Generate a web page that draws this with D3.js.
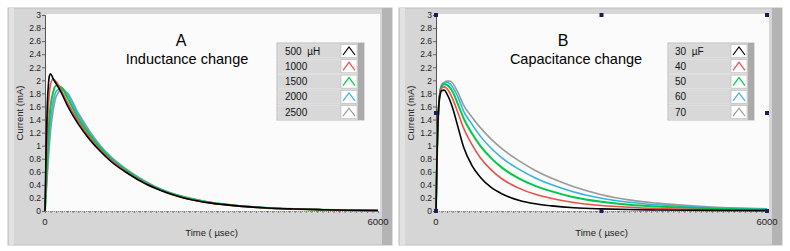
<!DOCTYPE html>
<html>
<head>
<meta charset="utf-8">
<script src="https://cdn.jsdelivr.net/npm/d3@7"></script>
<style>
  body { margin: 0; background: #fff; }
  svg text { font-family: "Liberation Sans", Arial, sans-serif; }
</style>
</head>
<body>
<div id="chart"></div>
<script>
// time samples (usec)
var timeA = [0, 20, 40, 60, 80, 100, 150, 200, 300, 400, 600, 800, 1000, 1200, 1500, 1800, 2100, 2500, 3000, 3500, 4000, 4500, 5000, 5500, 6000];
var timeB = [0, 20, 40, 60, 80, 100, 150, 200, 250, 300, 400, 500, 650, 800, 1000, 1200, 1500, 1800, 2100, 2500, 3000, 3500, 4000, 5000, 6000];

// panel A : inductance change
var labelsA = ["500  \u00b5H", "1000", "1500", "2000", "2500"];
var ind500  = [0, 0.95, 1.6, 1.92, 2.07, 2.1, 2.02, 1.95, 1.8, 1.62, 1.33, 1.1, 0.91, 0.75, 0.57, 0.42, 0.31, 0.2, 0.12, 0.075, 0.045, 0.03, 0.02, 0.012, 0.008];
var ind1000 = [0, 0.65, 1.2, 1.6, 1.82, 1.94, 2.02, 1.98, 1.84, 1.67, 1.37, 1.13, 0.93, 0.77, 0.58, 0.43, 0.31, 0.2, 0.12, 0.075, 0.045, 0.03, 0.02, 0.012, 0.008];
var ind1500 = [0, 0.4, 0.8, 1.15, 1.42, 1.6, 1.83, 1.92, 1.89, 1.74, 1.42, 1.17, 0.96, 0.79, 0.6, 0.44, 0.32, 0.21, 0.125, 0.078, 0.047, 0.03, 0.02, 0.012, 0.008];
var ind2000 = [0, 0.3, 0.62, 0.92, 1.18, 1.38, 1.68, 1.83, 1.88, 1.79, 1.47, 1.2, 0.98, 0.81, 0.61, 0.45, 0.33, 0.21, 0.13, 0.08, 0.048, 0.03, 0.02, 0.012, 0.008];
var ind2500 = [0, 0.25, 0.52, 0.78, 1.02, 1.22, 1.55, 1.75, 1.85, 1.81, 1.5, 1.23, 1.0, 0.82, 0.62, 0.46, 0.33, 0.22, 0.13, 0.08, 0.048, 0.03, 0.02, 0.012, 0.008];

// panel B : capacitance change
var labelsB = ["30  \u00b5F", "40", "50", "60", "70"];
var cap30 = [0, 0.9, 1.45, 1.7, 1.8, 1.84, 1.85, 1.79, 1.7, 1.58, 1.28, 0.98, 0.7, 0.52, 0.36, 0.26, 0.165, 0.11, 0.078, 0.05, 0.033, 0.023, 0.016, 0.009, 0.005];
var cap40 = [0, 0.9, 1.45, 1.72, 1.84, 1.88, 1.9, 1.87, 1.81, 1.72, 1.5, 1.27, 1.02, 0.82, 0.63, 0.49, 0.35, 0.255, 0.19, 0.13, 0.085, 0.057, 0.038, 0.02, 0.011];
var cap50 = [0, 0.9, 1.45, 1.72, 1.85, 1.9, 1.94, 1.93, 1.89, 1.83, 1.63, 1.42, 1.19, 1.0, 0.81, 0.66, 0.5, 0.385, 0.3, 0.21, 0.14, 0.095, 0.067, 0.035, 0.02];
var cap60 = [0, 0.9, 1.45, 1.72, 1.86, 1.92, 1.96, 1.97, 1.95, 1.9, 1.74, 1.53, 1.33, 1.15, 0.96, 0.81, 0.64, 0.505, 0.4, 0.29, 0.195, 0.135, 0.095, 0.05, 0.028];
var cap70 = [0, 0.9, 1.45, 1.72, 1.86, 1.93, 1.97, 1.99, 1.99, 1.96, 1.81, 1.62, 1.44, 1.28, 1.1, 0.95, 0.77, 0.62, 0.5, 0.37, 0.25, 0.17, 0.12, 0.06, 0.035];

var seriesColors = ["#000000", "#e8504a", "#00c84a", "#35b3dc", "#9a9a9a"];
var yTicks = [0, 0.2, 0.4, 0.6, 0.8, 1, 1.2, 1.4, 1.6, 1.8, 2, 2.2, 2.4, 2.6, 2.8, 3];
var xTickLabels = [0, 6000];

var svg = d3.select("#chart").append("svg")
    .attr("width", 790)
    .attr("height", 251);

function drawPanel(p) {
  var g = svg.append("g");

  // frame
  g.append("rect").attr("x", p.fx).attr("y", 8).attr("width", p.fw).attr("height", 237)
      .attr("fill", "#d6d6d6").attr("stroke", "#bdbdbd");
  g.append("rect").attr("x", p.fx + p.fw - 10).attr("y", 8).attr("width", 10).attr("height", 237)
      .attr("fill", "#b4b4b4");
  g.append("rect").attr("x", p.fx + 1).attr("y", 8).attr("width", 5).attr("height", 237)
      .attr("fill", "#e2e2e2");

  var x = d3.scaleLinear().domain([0, 6000]).range([p.left, p.right]);
  var y = d3.scaleLinear().domain([0, 3]).range([211, 15]);

  // plot area
  g.append("rect").attr("x", p.left).attr("y", 14).attr("width", p.right - p.left + 2).attr("height", 197)
      .attr("fill", "#fbfbfb");

  // y axis
  var yAxis = g.append("g")
      .attr("transform", "translate(" + p.left + ",0)")
      .call(d3.axisLeft(y).tickValues(yTicks).tickSize(3).tickPadding(1).tickFormat(d3.format("")));
  yAxis.select(".domain").attr("stroke", "#555");
  yAxis.selectAll(".tick line").attr("stroke", "#666");
  yAxis.selectAll(".tick text").attr("font-size", 8.5).attr("fill", "#222");

  // x axis minor ticks
  var xAxis = g.append("g")
      .attr("transform", "translate(0,211)")
      .call(d3.axisBottom(x).tickValues(d3.range(0, 6001, 100)).tickSize(2).tickFormat(""));
  xAxis.select(".domain").attr("stroke", "#888").attr("stroke-dasharray", "1,1");
  xAxis.selectAll(".tick line").attr("stroke", "#777");
  g.selectAll(".xlab").data(xTickLabels).enter().append("text")
      .attr("x", function(d) { return x(d); })
      .attr("y", 225)
      .attr("text-anchor", "middle")
      .attr("font-size", 9.5)
      .attr("fill", "#222")
      .text(function(d) { return d; });

  // axis titles
  g.append("text")
      .attr("transform", "translate(" + (p.left - 22) + ",113) rotate(-90)")
      .attr("text-anchor", "middle")
      .attr("font-size", 9.5)
      .attr("fill", "#222")
      .text("Current (mA)");
  g.append("text")
      .attr("x", (p.left + p.right) / 2)
      .attr("y", 236)
      .attr("text-anchor", "middle")
      .attr("font-size", 9.5)
      .attr("fill", "#222")
      .text("Time ( \u00b5sec)");

  // curves
  var line = d3.line()
      .x(function(d) { return x(d[0]); })
      .y(function(d) { return y(d[1]); })
      .curve(d3.curveMonotoneX);
  p.series.slice().reverse().forEach(function(s, i) {
    var k = p.series.length - 1 - i;
    g.append("path")
        .datum(p.time.map(function(t, j) { return [t, s[j]]; }))
        .attr("fill", "none")
        .attr("stroke", seriesColors[k])
        .attr("stroke-width", k == 2 ? 2 : 1.6)
        .attr("d", line);
  });

  // titles
  g.append("text").attr("x", p.tx).attr("y", 46).attr("text-anchor", "middle")
      .attr("font-size", 16).attr("fill", "#000").text(p.letter);
  g.append("text").attr("x", p.tx + p.sdx).attr("y", 64).attr("text-anchor", "middle")
      .attr("font-size", 14.5).attr("fill", "#000").text(p.subtitle);

  // legend
  var lg = g.append("g").attr("transform", "translate(" + p.lx + ",43)");
  lg.append("rect").attr("x", 0).attr("y", 0).attr("width", p.lw).attr("height", 77)
      .attr("fill", "#cfcfcf").attr("stroke", "#bbb");
  lg.append("rect").attr("x", p.lw - 6).attr("y", 0).attr("width", 6).attr("height", 77)
      .attr("fill", "#aaaaaa");
  var rows = lg.selectAll(".row").data(p.labels).enter().append("g")
      .attr("transform", function(d, i) { return "translate(0," + (i * 15.3) + ")"; });
  rows.append("rect").attr("x", 1).attr("y", 1).attr("width", p.lw - 8).attr("height", 14)
      .attr("fill", "#d8d8d8").attr("stroke", "#e8e8e8").attr("stroke-width", 0.6);
  rows.append("text").attr("x", p.ltx).attr("y", 11.5)
      .attr("font-size", 10).attr("fill", "#111")
      .style("white-space", "pre")
      .text(function(d) { return d; });
  rows.append("rect").attr("x", p.lw - 23).attr("y", 1.5).attr("width", 16).attr("height", 13)
      .attr("fill", "#fff").attr("stroke", "#aaa").attr("stroke-width", 0.5);
  rows.append("path")
      .attr("d", "M" + (p.lw - 21) + ",12 L" + (p.lw - 15) + ",4 L" + (p.lw - 9) + ",12")
      .attr("fill", "none")
      .attr("stroke", function(d, i) { return seriesColors[i]; })
      .attr("stroke-width", 1.2);

  // selection handles
  if (p.handles) {
    var hx = [0, 3000, 6000];
    var hy = [3, 1.5, 0];
    var pts = [];
    hx.forEach(function(a) { hy.forEach(function(b) { if (!(a == 3000 && b == 1.5)) pts.push([a, b]); }); });
    g.selectAll(".handle").data(pts).enter().append("rect")
        .attr("x", function(d) { return x(d[0]) - 2; })
        .attr("y", function(d) { return y(d[1]) - 2; })
        .attr("width", 4).attr("height", 4)
        .attr("fill", "#1c1c5a");
  }
}

drawPanel({
  fx: 8, fw: 384, left: 45, right: 378,
  time: timeA, series: [ind500, ind1000, ind1500, ind2000, ind2500],
  letter: "A", subtitle: "Inductance change", tx: 181, sdx: 6,
  lx: 277, lw: 87, ltx: 8, labels: labelsA, handles: false
});

drawPanel({
  fx: 399, fw: 383, left: 436, right: 767,
  time: timeB, series: [cap30, cap40, cap50, cap60, cap70],
  letter: "B", subtitle: "Capacitance change", tx: 563, sdx: 13,
  lx: 668, lw: 86, ltx: 7, labels: labelsB, handles: true
});
</script>
</body>
</html>
